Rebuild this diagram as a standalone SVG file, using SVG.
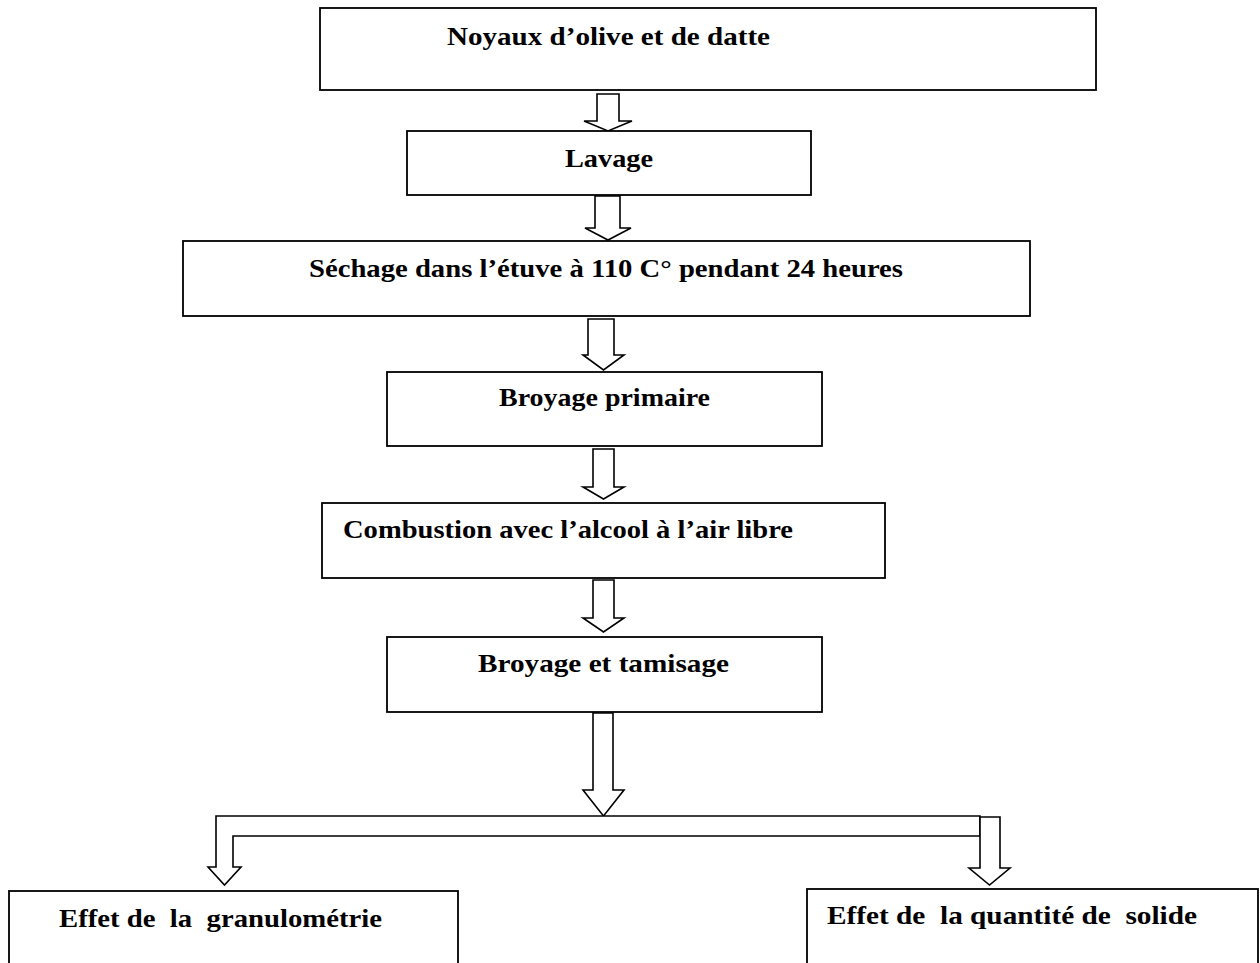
<svg xmlns="http://www.w3.org/2000/svg" width="1260" height="963" viewBox="0 0 1260 963">
<style>
.box{fill:#fff;stroke:#000;stroke-width:1.8}
.arr{fill:#fff;stroke:#000;stroke-width:1.6;stroke-linejoin:miter}
.t{font-family:"Liberation Serif","Times New Roman",serif;font-weight:bold;font-size:26px;fill:#000;white-space:pre}
</style>
<rect width="1260" height="963" fill="#fff"/>
<g id="connectors">
<path class="arr" d="M597,94 H619 V121 H632 L608,131 L584,121 H597 Z"/>
<path class="arr" d="M595,196 H620 V228 H631 L608,240 L585,228 H595 Z"/>
<path class="arr" d="M588,319 H614 V355 H624 L603.5,370 L583,355 H588 Z"/>
<path class="arr" d="M593,449 H614 V487 H624 L603.5,499 L583,487 H593 Z"/>
<path class="arr" d="M593,580 H614 V618 H624 L603.5,632 L583,618 H593 Z"/>
<path class="arr" d="M593,713 H613 V790 H624 L603.5,816 L583,790 H593 Z"/>
<path class="arr" d="M216,816 H980 V836 H233 V867 H241 L224.5,885 L208,867 H216 Z"/>
<path class="arr" d="M980,817 H1000 V868 H1010 L989.5,885 L969,868 H980 Z"/>
</g>
<g id="n1"><rect class="box" x="320" y="8" width="776" height="82"/><text class="t" x="447" y="45" textLength="323" lengthAdjust="spacingAndGlyphs">Noyaux d’olive et de datte</text></g>
<g id="n2"><rect class="box" x="407" y="131" width="404" height="64"/><text class="t" x="565" y="167" textLength="88" lengthAdjust="spacingAndGlyphs">Lavage</text></g>
<g id="n3"><rect class="box" x="183" y="241" width="847" height="75"/><text class="t" x="309" y="277" textLength="594" lengthAdjust="spacingAndGlyphs">Séchage dans l’étuve à 110 C° pendant 24 heures</text></g>
<g id="n4"><rect class="box" x="387" y="372" width="435" height="74"/><text class="t" x="499" y="406" textLength="211" lengthAdjust="spacingAndGlyphs">Broyage primaire</text></g>
<g id="n5"><rect class="box" x="322" y="503" width="563" height="75"/><text class="t" x="343" y="538" textLength="450" lengthAdjust="spacingAndGlyphs">Combustion avec l’alcool à l’air libre</text></g>
<g id="n6"><rect class="box" x="387" y="637" width="435" height="75"/><text class="t" x="478" y="672" textLength="251" lengthAdjust="spacingAndGlyphs">Broyage et tamisage</text></g>
<g id="n7"><rect class="box" x="9" y="891" width="449" height="90"/><text class="t" x="59" y="927" textLength="323" lengthAdjust="spacingAndGlyphs" xml:space="preserve">Effet de  la  granulométrie</text></g>
<g id="n8"><rect class="box" x="807" y="889" width="451" height="90"/><text class="t" x="827" y="924" textLength="370" lengthAdjust="spacingAndGlyphs" xml:space="preserve">Effet de  la quantité de  solide</text></g>
</svg>
